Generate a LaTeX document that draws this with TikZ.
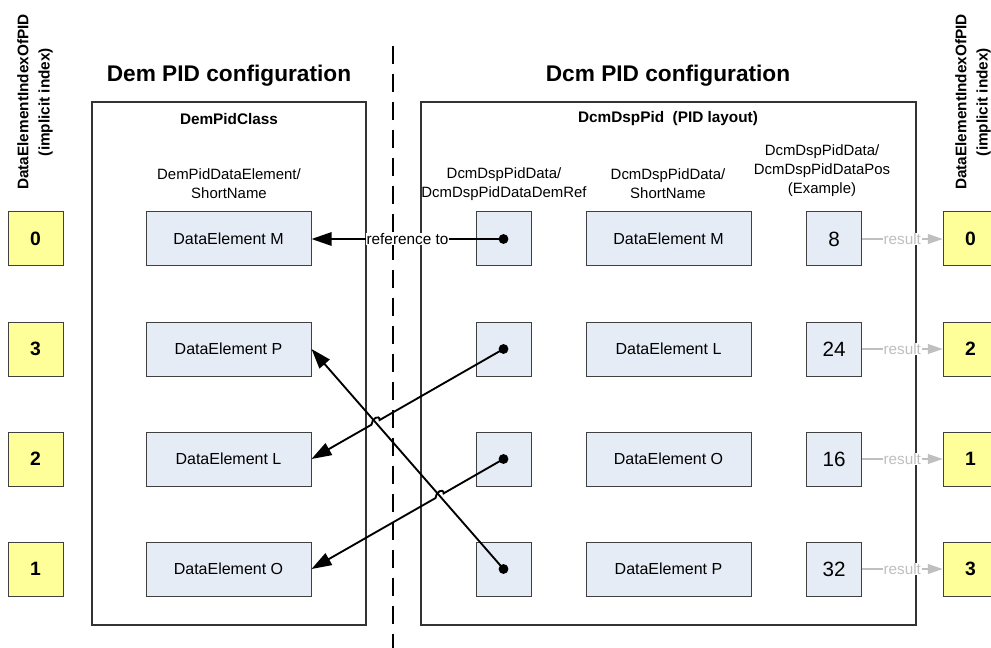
\documentclass[tikz,border=0pt]{standalone}
\usepackage{fontspec}
\setmainfont{Liberation Sans}
\usetikzlibrary{arrows.meta,calc}

\definecolor{boxblue}{HTML}{E6ECF6}
\definecolor{idxyellow}{HTML}{FFFF99}
\definecolor{resgray}{HTML}{BFBFBF}

\begin{document}
\begin{tikzpicture}[x=0.75pt, y=-0.75pt,
		every node/.style={inner sep=0pt},
		frame/.style={draw=black!80, line width=1pt},
		elem/.style={draw=black!75, line width=0.75pt, fill=boxblue, minimum width=123.75pt, minimum height=40.5pt, font=\fontsize{12}{14}\selectfont},
		refbox/.style={draw=black!75, line width=0.75pt, fill=boxblue, minimum width=41.25pt, minimum height=40.5pt},
		posbox/.style={refbox, font=\fontsize{15.5}{18}\selectfont},
		idxbox/.style={draw=black!75, line width=0.75pt, fill=idxyellow, minimum width=41.25pt, minimum height=40.5pt, font=\fontsize{14.5}{17}\selectfont\bfseries},
		title/.style={font=\fontsize{17}{20}\selectfont\bfseries},
		classname/.style={font=\fontsize{11.5}{13}\selectfont\bfseries},
		header/.style={align=center, font=\fontsize{11.2}{14.3}\selectfont},
		idxhead/.style={rotate=90, align=center, font=\fontsize{11.5}{16}\selectfont\bfseries},
		refline/.style={line width=1.4pt, -{Triangle[length=15pt,width=10pt]}},
		reflabel/.style={fill=white, inner sep=0.5pt, font=\fontsize{11.5}{13}\selectfont},
		resline/.style={draw=resgray, line width=0.8pt, -{Triangle[length=11pt,width=7.5pt]}},
		reslabel/.style={fill=white, inner sep=0.5pt, text=resgray, font=\fontsize{11.5}{13}\selectfont}
	]
	\useasboundingbox (0,0) rectangle (991,648);
	\clip (0,0) rectangle (991,648);

	% the two configurations
	\draw[frame] (92,102) rectangle (366,625);
	\draw[frame] (421,102) rectangle (916,625);
	\draw[line width=1.5pt, dash pattern=on 13.5pt off 7.5pt] (393,46) -- (393,648);

	\node[title] (demtitle) at (229,76) {Dem PID configuration};
	\node[title] (dcmtitle) at (668,76) {Dcm PID configuration};
	\node[classname] (demclass) at (229,119) {DemPidClass};
	\node[classname] (dcmclass) at (668,119) {DcmDspPid\ \ (PID layout)};

	\node[idxhead] (idxheadL) at (35,102) {DataElementIndexOfPID\\(implicit index)};
	\node[idxhead] (idxheadR) at (973,102) {DataElementIndexOfPID\\(implicit index)};

	\node[header] (demhead) at (229,184) {DemPidDataElement/\\ShortName};
	\node[header] (refhead) at (504,184) {DcmDspPidData/\\DcmDspPidDataDemRef};
	\node[header] (dcmhead) at (668,184) {DcmDspPidData/\\ShortName};
	\node[header] (poshead) at (822,171) {DcmDspPidData/\\DcmDspPidDataPos\\(Example)};

	% rows
	\foreach \y/\il/\dl/\cl/\pv/\ir [count=\i] in {239/0/M/M/8/0, 349/3/P/L/24/2, 459/2/L/O/16/1, 569/1/O/P/32/3} {
		\node[idxbox] (idxL\i) at (35.5,\y) {\il};
		\node[elem] (dem\dl) at (228.5,\y) {DataElement \dl};
		\node[refbox] (ref\cl) at (503.5,\y) {};
		\node[elem] (dcm\cl) at (668.5,\y) {DataElement \cl};
		\node[posbox] (pos\i) at (834,\y) {\pv};
		\node[idxbox] (idxR\i) at (970.5,\y) {\ir};
		\fill (ref\cl) circle (3.7pt);
		\draw[resline] (pos\i) -- node[reslabel] {result} (idxR\i);
	}

	% references from Dcm to Dem
	\draw[refline] (refM.center) -- node[reflabel] {reference to} (demM.east);
	\draw[refline] (refP.center) -- (demP.east);

	\coordinate (jumpL) at (intersection of refP.center--demP.east and refL.center--demL.east);
	\coordinate (jumpO) at (intersection of refP.center--demP.east and refO.center--demO.east);
	\draw[refline] (refL.center) -- ($(jumpL)!3.5pt!(refL.center)$)
		.. controls +(0,-6) and +(0,-6) .. ($(jumpL)!3.5pt!(demL.east)$) -- (demL.east);
	\draw[refline] (refO.center) -- ($(jumpO)!3.5pt!(refO.center)$)
		.. controls +(0,-6) and +(0,-6) .. ($(jumpO)!3.5pt!(demO.east)$) -- (demO.east);
\end{tikzpicture}
\end{document}
